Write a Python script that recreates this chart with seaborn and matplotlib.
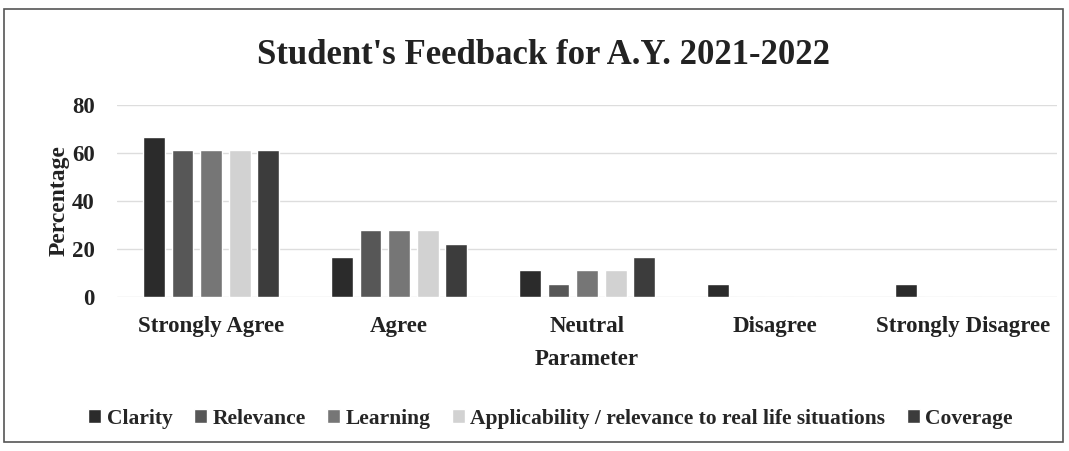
import pandas as pd
import matplotlib.pyplot as plt
import seaborn as sns
from matplotlib.patches import Rectangle

# Data
parameters = ['Strongly Agree', 'Agree', 'Neutral', 'Disagree', 'Strongly Disagree']
clarity = [66.7, 16.7, 11.1, 5.6, 5.6]
relevance = [61.1, 27.8, 5.6, 0, 0]
learning = [61.1, 27.8, 11.1, 0, 0]
applicability = [61.1, 27.8, 11.1, 0, 0]
coverage = [61.1, 22.2, 16.7, 0, 0]

series_names = ['Clarity', 'Relevance', 'Learning',
                'Applicability / relevance to real life situations', 'Coverage']
series_values = [clarity, relevance, learning, applicability, coverage]
colors = ['#2b2b2b', '#575757', '#767676', '#d2d2d2', '#3c3c3c']

# Long-form table for seaborn
rows = []
for name, vals in zip(series_names, series_values):
    for p, v in zip(parameters, vals):
        rows.append({'Parameter': p, 'Percentage': v, 'Series': name})
df = pd.DataFrame(rows)

sns.set_style('white')
plt.rcParams['font.family'] = ['Liberation Serif', 'DejaVu Serif']
plt.rcParams['font.weight'] = 'bold'

fig = plt.figure(figsize=(10.69, 4.51), dpi=100)
ax = fig.add_axes([0.1095, 0.3415, 0.8795, 0.4255])

sns.barplot(data=df, x='Parameter', y='Percentage', hue='Series',
            order=parameters, hue_order=series_names, palette=colors,
            width=0.76, gap=0.24, ax=ax, legend=True)

ax.set_xlim(-0.5, 4.5)
ax.set_ylim(0, 80)
ax.set_yticks([0, 20, 40, 60, 80])
ax.yaxis.grid(True, color='#dddddd', linewidth=1)
ax.set_axisbelow(True)
for s in ax.spines.values():
    s.set_visible(False)
ax.tick_params(axis='x', length=0, labelsize=16.5, colors='#222222', pad=14)
ax.tick_params(axis='y', length=0, labelsize=16.5, colors='#222222', pad=16)
for lbl in ax.get_xticklabels() + ax.get_yticklabels():
    lbl.set_fontweight('bold')

ax.set_xlabel('Parameter', fontsize=16.5, fontweight='bold', color='#222222', labelpad=8)
ax.set_ylabel('Percentage', fontsize=17, fontweight='bold', color='#222222', labelpad=2)

fig.suptitle("Student's Feedback for A.Y. 2021-2022", x=0.508, y=0.878, va='center',
             fontsize=25, fontweight='bold', color='#222222')

handles, labels = ax.get_legend_handles_labels()
ax.legend_.remove()
fig.legend(handles, labels, loc='center', bbox_to_anchor=(0.515, 0.072), ncol=5,
           frameon=False, handlelength=0.6, handleheight=0.6,
           handletextpad=0.25, columnspacing=1.0, prop={'weight': 'bold', 'size': 15.5})

# Outer frame around the chart
fig.patches.append(Rectangle((0.004, 0.02), 0.99, 0.96, transform=fig.transFigure,
                             fill=False, edgecolor='#555555', linewidth=1.2))

fig.savefig('out.png', dpi=100)
